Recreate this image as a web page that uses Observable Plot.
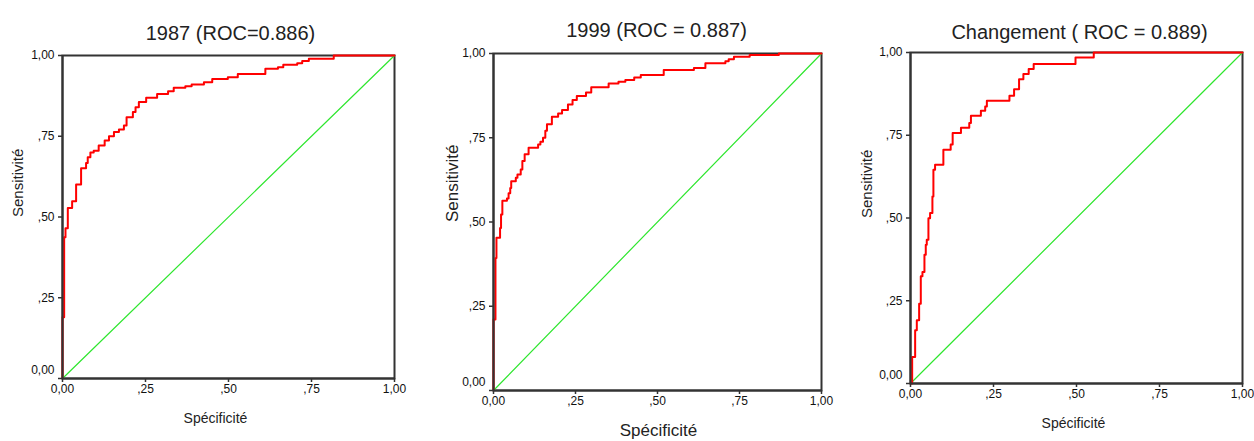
<!DOCTYPE html>
<html><head><meta charset="utf-8">
<script src="https://cdn.jsdelivr.net/npm/d3@7"></script>
<script src="https://cdn.jsdelivr.net/npm/@observablehq/plot@0.6"></script>
<style>
html,body{margin:0;padding:0;background:#fff;}
#wrap{position:relative;width:1254px;height:441px;overflow:hidden;background:#fff;}
#wrap svg{position:absolute;top:0;}
</style></head><body><div id="wrap"></div>
<script>
// Tick values and labels (French decimal style)
const tickValues = [0, 0.25, 0.5, 0.75, 1];
const tickLabels = ["0,00", ",25", ",50", ",75", "1,00"];
const xLabel = "Spécificité";
const yLabel = "Sensitivité";
const titles = ["1987 (ROC=0.886)", "1999 (ROC = 0.887)", "Changement ( ROC = 0.889)"];

// Reference diagonal
const diagX = [0, 1];
const diagY = [0, 1];

// ROC step curve 1987
const fpr1987 = [0, 0, 0.005, 0.009, 0.016, 0.029, 0.041, 0.056, 0.071, 0.076, 0.084, 0.094, 0.109, 0.127, 0.140, 0.155, 0.170, 0.185, 0.193, 0.212, 0.220, 0.230, 0.252, 0.285, 0.318, 0.335, 0.370, 0.389, 0.426, 0.451, 0.498, 0.528, 0.611, 0.649, 0.665, 0.707, 0.722, 0.742, 0.817, 1];
const sens1987 = [0, 0.19, 0.437, 0.465, 0.528, 0.549, 0.601, 0.651, 0.667, 0.685, 0.700, 0.705, 0.721, 0.737, 0.750, 0.763, 0.771, 0.783, 0.809, 0.825, 0.840, 0.856, 0.869, 0.881, 0.889, 0.900, 0.905, 0.910, 0.917, 0.927, 0.933, 0.943, 0.959, 0.964, 0.971, 0.976, 0.983, 0.990, 1, 1];

// ROC step curve 1999
const fpr1999 = [0, 0, 0.006, 0.009, 0.020, 0.023, 0.027, 0.041, 0.046, 0.051, 0.054, 0.068, 0.073, 0.083, 0.088, 0.095, 0.107, 0.136, 0.143, 0.151, 0.158, 0.163, 0.178, 0.197, 0.209, 0.227, 0.241, 0.254, 0.282, 0.298, 0.351, 0.381, 0.402, 0.429, 0.449, 0.519, 0.611, 0.646, 0.707, 0.717, 0.733, 0.781, 0.870, 1];
const sens1999 = [0, 0.211, 0.393, 0.453, 0.482, 0.522, 0.563, 0.570, 0.585, 0.601, 0.621, 0.631, 0.641, 0.656, 0.681, 0.701, 0.720, 0.730, 0.738, 0.750, 0.771, 0.790, 0.812, 0.822, 0.832, 0.849, 0.862, 0.874, 0.884, 0.900, 0.911, 0.916, 0.921, 0.929, 0.936, 0.951, 0.957, 0.971, 0.977, 0.983, 0.990, 0.9955, 1, 1];

// ROC step curve Changement
const fprChg = [0, 0.005, 0.014, 0.019, 0.026, 0.031, 0.036, 0.042, 0.046, 0.049, 0.054, 0.059, 0.066, 0.069, 0.074, 0.099, 0.121, 0.127, 0.152, 0.177, 0.182, 0.212, 0.225, 0.230, 0.298, 0.312, 0.327, 0.340, 0.356, 0.371, 0.497, 0.552, 1];
const sensChg = [0, 0.080, 0.161, 0.191, 0.241, 0.324, 0.337, 0.389, 0.419, 0.434, 0.499, 0.515, 0.565, 0.646, 0.661, 0.706, 0.722, 0.757, 0.773, 0.787, 0.809, 0.824, 0.837, 0.854, 0.869, 0.889, 0.919, 0.935, 0.950, 0.965, 0.985, 1, 1];

const FONT = '"Liberation Sans", Arial, Helvetica, sans-serif';
const fmt = d => tickLabels[tickValues.indexOf(d)];

const panels = [
  {left: 0, width: 414, mt: 55, mr: 20, mb: 63, ml: 62, fpr: fpr1987, sens: sens1987, title: titles[0],
   tdy: -30, tdx: 2, xdx: -13, xdy: 44, xfs: 14, xls: 1.6, ydx: -44, yfs: 15, yls: 0.6},
  {left: 420, width: 416, mt: 53, mr: 15, mb: 51, ml: 73, fpr: fpr1999, sens: sens1999, title: titles[1],
   tdy: -31, tdx: -1, xdx: 1, xdy: 45, xfs: 17, xls: 0.6, ydx: -41, yfs: 17, yls: 0.3},
  {left: 840, width: 412, mt: 52, mr: 10, mb: 58, ml: 70, fpr: fprChg, sens: sensChg, title: titles[2],
   tdy: -28, tdx: 3, xdx: -3, xdy: 44, xfs: 14, xls: 1.6, ydx: -43, yfs: 15, yls: 0.6}
];

const wrap = document.getElementById("wrap");
for (const p of panels) {
  const curve = p.fpr.map((x, i) => ({x, y: p.sens[i]}));
  const diag = diagX.map((x, i) => ({x, y: diagY[i]}));
  const svg = Plot.plot({
    width: p.width, height: 441,
    marginTop: p.mt, marginRight: p.mr, marginBottom: p.mb, marginLeft: p.ml,
    x: {domain: [0, 1]},
    y: {domain: [0, 1]},
    style: {fontFamily: FONT, fontSize: "12px", color: "#111", background: "transparent", overflow: "visible"},
    marks: [
      Plot.frame({stroke: "#333", strokeWidth: 2}),
      Plot.line(diag, {x: "x", y: "y", stroke: "#2ee62e", strokeWidth: 1.2}),
      Plot.line(curve, {x: "x", y: "y", curve: "step-after", stroke: "#ff0000", strokeWidth: 2}),
      Plot.ruleX([0], {stroke: "#333", strokeWidth: 2}),
      Plot.ruleY([0], {stroke: "#333", strokeWidth: 2}),
      Plot.axisX(tickValues, {tickFormat: fmt, tickSize: 4, tickPadding: 2, label: null, stroke: "#333", strokeWidth: 1.5}),
      Plot.axisY(tickValues, {tickFormat: d => d === 0 ? "" : fmt(d), tickSize: 4, tickPadding: 4, label: null, stroke: "#333", strokeWidth: 1.5}),
      Plot.axisY([0], {tickFormat: fmt, tickSize: 0, tickPadding: 8, dy: -8, label: null}),
      Plot.text([p.title], {frameAnchor: "top", dy: p.tdy, dx: p.tdx, fontSize: 20, fill: "#222"}),
      Plot.text([xLabel], {frameAnchor: "bottom", dy: p.xdy, dx: p.xdx, fontSize: p.xfs, fill: "#222", ariaLabel: "xlab"}),
      Plot.text([yLabel], {frameAnchor: "left", rotate: -90, dx: p.ydx, fontSize: p.yfs, fill: "#222", ariaLabel: "ylab"})
    ]
  });
  svg.style.left = p.left + "px";
  svg.querySelectorAll('g[aria-label="xlab"] text').forEach(t => t.style.letterSpacing = p.xls + "px");
  svg.querySelectorAll('g[aria-label="ylab"] text').forEach(t => t.style.letterSpacing = p.yls + "px");
  wrap.appendChild(svg);
}
</script>
</body></html>
